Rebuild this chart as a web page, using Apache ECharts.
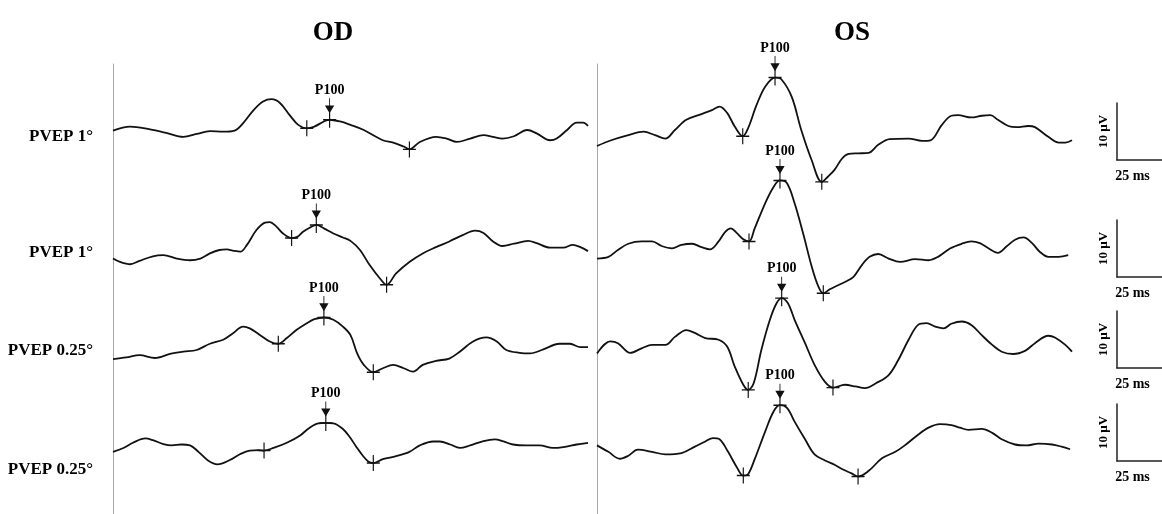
<!DOCTYPE html>
<html><head><meta charset="utf-8">
<script src="https://cdn.jsdelivr.net/npm/echarts@6/dist/echarts.min.js"></script>
<style>html,body{margin:0;padding:0;background:#fff}#c{width:1162px;height:514px}</style>
</head><body><div id="c"></div><script>
// ---- data (time in ms, amplitude in µV) ----
const columnTitles = ['OD', 'OS'];
const rowLabels = ['PVEP 1°', 'PVEP 1°', 'PVEP 0.25°', 'PVEP 0.25°'];
const scaleAmpLabel = '10 µV';
const scaleTimeLabel = '25 ms';
const scaleAmp = 10;   // µV
const scaleTime = 25;  // ms
const sweep = 250;     // ms

const odR1 = [[0,-0.1],[9,0.6],[19.5,0.1],[28,-0.5],[37,-1.2],[44,-0.7],[51,-0.2],[58,-0.3],[64,-0.1],[68.5,1.2],[74,3.5],[79,5.0],[83.5,5.4],[88,4.7],[93,2.6],[97.5,0.9],[102,0.3],[106,0.6],[111,1.5],[114,1.8],[119.5,1.5],[125,0.9],[132,0],[142,-1.8],[147.5,-2.2],[153,-2.9],[156,-3.4],[161.5,-2.1],[170,-1.2],[175.5,-1.5],[181,-2.1],[188,-1.5],[195,-0.9],[200,-1.2],[205,-1.5],[211,-1.1],[218,0],[223,-0.6],[230,-1.8],[233.5,-1.5],[239,0],[244,1.3],[247.5,1.3],[250,0.7]];
const odR2 = [[0,-1.5],[3.7,-2.1],[9,-2.5],[14,-1.9],[21,-1.1],[26.5,-0.9],[33.5,-1.5],[40.5,-1.8],[46,-1.5],[51,-0.6],[56,0],[60,0.1],[63,-0.1],[67,-0.3],[70.5,0.9],[75.5,3.5],[80,4.8],[82.5,4.9],[86,4.1],[89.5,2.9],[94,2.1],[97,2.3],[100,3.2],[104,4.0],[107,4.4],[111,3.8],[116,2.9],[121,2.2],[125,1.6],[130,0],[135,-2.6],[140.5,-5.0],[144,-6.1],[149,-4.1],[156,-2.1],[163,-0.6],[170,0.5],[177,1.5],[184,2.6],[190.5,3.4],[195,3.0],[200,1.5],[205,0.7],[211,1.1],[218.5,1.6],[223,1.2],[230,0.4],[237,0.4],[242,0.9],[246,0.5],[250,-0.2]];
const odR3 = [[0,-1.6],[7,-1.3],[14,-0.9],[22,-1.4],[30,-0.7],[37,-0.3],[44,0],[51,1.1],[58,1.8],[63,2.9],[68.5,4.1],[72,3.8],[77.5,2.6],[82.5,1.5],[87,1.1],[91.5,2.1],[96.5,3.5],[102,4.7],[106,5.4],[111,5.7],[116,5.3],[121,4.1],[125,2.6],[128.5,-0.6],[132,-2.6],[137,-3.9],[142,-3.2],[147.5,-2.6],[153,-3.2],[158,-3.8],[163,-2.6],[170,-1.9],[177,-1.5],[182.5,-0.3],[189.5,1.5],[196.5,2.2],[202,1.5],[207,0],[214,-0.5],[219.5,-0.6],[226.5,0.1],[235,1.1],[240.5,1.1],[246,0.5],[250,0.5]];
const odR4 = [[0,-0.6],[5.5,0.3],[10.5,1.5],[17,2.5],[21,2.1],[26.5,1.2],[31,0.9],[36,1.1],[40.5,0.9],[45,-0.6],[50,-2.6],[55,-3.5],[61.5,-2.5],[67,-1.1],[72,-0.3],[76.5,-0.2],[79.5,-0.3],[84.5,0.3],[91.5,1.5],[98.5,3.2],[103.5,5.0],[108,6.0],[112,6.1],[116,6.0],[121,4.7],[124.5,2.9],[128,0.6],[131.5,-1.5],[134.5,-2.9],[137,-3.2],[142,-2.3],[149,-1.6],[156,-0.6],[161.5,0.9],[168.5,1.8],[172,1.8],[177.5,1.1],[182.5,0.3],[188,0.9],[195,1.9],[201,2.3],[205.5,1.8],[210.5,1.1],[217.5,0.9],[224.5,0.9],[231.5,0.3],[237,0.5],[244,1.1],[250,1.5]];

const osR1 = [[0,-2.8],[7.5,-1.8],[16.5,-0.9],[24.5,-0.3],[30.5,-0.9],[36,-1.5],[41,0],[47,1.8],[55,2.8],[60.5,3.5],[64.5,4.1],[68.5,3.0],[72.5,0.6],[76.7,-1.1],[79.5,0.3],[84,4.4],[88.5,7.6],[93.7,9.2],[97,8.9],[102.5,5.8],[107.5,0],[113,-5.3],[118.3,-9.1],[121.5,-8.2],[125,-7.0],[129,-5.0],[132.5,-4.2],[137.5,-4.1],[143,-4.0],[148,-2.6],[154,-1.6],[164,-1.5],[171,-1.9],[175.5,-1.8],[181.5,0.9],[186.5,2.5],[190,2.6],[197,2.2],[202.5,2.5],[207,2.6],[211,1.8],[216.5,0.7],[221,0.5],[227,0.7],[230.5,0.5],[237.5,-1.2],[243,-2.2],[246.5,-2.2],[250,-1.8]];
const osR2 = [[0,-1.5],[6,-1.2],[11,0],[16.5,1.1],[23.5,1.5],[29,1.5],[34,0.7],[39.5,0.3],[44.5,0.9],[50,1.1],[55,0.5],[59.5,0.1],[64,1.5],[67.5,3.2],[70.5,3.8],[73.5,3.0],[77,1.9],[80,1.5],[83,3.8],[88.5,8.2],[93,11.1],[96.3,12.2],[100,11.7],[104,8.2],[108.5,2.9],[113,-2.9],[116.5,-6.4],[119.1,-7.6],[122.5,-6.9],[125.5,-6.4],[130.5,-5.6],[135,-4.7],[139.5,-2.6],[143.5,-1.2],[148,-0.7],[153.5,-1.5],[159.5,-2.1],[167.5,-1.6],[174.5,-1.8],[179.5,-1.2],[186,0.3],[192,1.1],[197,1.5],[201.5,1.2],[206,0.3],[211,-0.5],[215.5,0.6],[220,1.8],[224.5,2.2],[229,1.2],[233,-0.3],[237.5,-1.2],[243,-1.2],[248,-0.9]];
const osR3 = [[0,-0.6],[7,1.5],[11,1.2],[17.5,-0.5],[23.5,0.3],[29,0.9],[36,0.9],[41,2.3],[47,3.5],[51.5,3.0],[57,2.1],[64,1.8],[68.5,0.6],[72.5,-2.9],[77,-6.1],[79.6,-7.0],[82.5,-5.8],[86.5,0],[91,5.3],[94.5,8.2],[97.2,9.1],[100.5,8.2],[104,5.3],[109.5,1.2],[114.5,-2.6],[120,-5.6],[124.2,-6.6],[130.5,-6.1],[136,-6.4],[141,-6.7],[147,-5.8],[153.5,-4.4],[158.5,-1.8],[164,1.8],[169,4.4],[173.5,4.7],[178,4.1],[182.5,3.8],[186.5,4.6],[192,5.0],[197,4.4],[202.5,2.6],[208,0.9],[213,-0.3],[219,-0.7],[225.5,-0.1],[230.5,1.2],[237.5,2.5],[241,2.2],[246.5,0.9],[250,-0.3]];
const osR4 = [[0,0.9],[6,-0.6],[12,-2.2],[16.5,-1.5],[21.5,-0.1],[29,-0.6],[36,-1.2],[44.5,-0.9],[51.5,0.6],[57,1.8],[61,2.6],[64.5,2.3],[69,-0.6],[73.5,-4.1],[77,-6.1],[79.5,-5.8],[83,-2.3],[88.5,4.1],[93,8.8],[96.3,10.2],[100,9.6],[104,6.4],[109.5,2.3],[114.5,-1.2],[120,-2.6],[125.5,-3.7],[129.5,-4.7],[134,-5.6],[137.4,-6.3],[143,-5.0],[150,-2.1],[157,-0.6],[162,0.9],[168.5,3.2],[174.5,5.0],[180.5,5.8],[186.5,5.6],[191,5.0],[195.5,4.5],[202.5,4.7],[208,3.8],[213,2.3],[220,1.1],[226,0.9],[232.5,1.3],[239.5,1.1],[244.5,0.6],[249,0]];

// marked components: [N75, P100, N135]
const odMarks = [
  [[102,0.3],[114,1.8],[156,-3.4]],
  [[94,2.1],[107,4.4],[144,-6.1]],
  [[87,1.1],[111,5.7],[137,-3.9]],
  [[79.5,-0.3],[112,6.1],[137,-3.2]]
];
const osMarks = [
  [[76.7,-1.1],[93.7,9.2],[118.3,-9.1]],
  [[80,1.5],[96.3,12.2],[119.1,-7.6]],
  [[79.6,-7.0],[97.2,9.1],[124.2,-6.6]],
  [[77,-6.1],[96.3,10.2],[137.4,-6.3]]
];
const peakLabel = 'P100';

// ---- layout ----
const traces = [[odR1, osR1], [odR2, osR2], [odR3, osR3], [odR4, osR4]];
const marks = [[odMarks[0], osMarks[0]], [odMarks[1], osMarks[1]], [odMarks[2], osMarks[2]], [odMarks[3], osMarks[3]]];
const PX_MS = 1.9, PX_UV = 5.7, YR = 15;
const COL_LEFT = [113, 597];
const ROW_BASE = [130, 250, 350, 470];
const LABEL_Y = [137, 253, 351, 470];
const BAR_BOTTOM = [160, 277, 368, 461];
const SERIF = 'Liberation Serif';
const INK = '#000';

const grid = [], xAxis = [], yAxis = [], series = [], title = [];
const hidden = { show: false };

for (let r = 0; r < 4; r++) {
  for (let c = 0; c < 2; c++) {
    const gi = grid.length;
    grid.push({ left: COL_LEFT[c], top: ROW_BASE[r] - YR * PX_UV, width: sweep * PX_MS, height: 2 * YR * PX_UV });
    xAxis.push({ gridIndex: gi, type: 'value', min: 0, max: sweep, show: false });
    yAxis.push({ gridIndex: gi, type: 'value', min: -YR, max: YR, show: false });
    series.push({
      type: 'line', xAxisIndex: gi, yAxisIndex: gi, data: traces[r][c],
      smooth: 0.35, showSymbol: false, silent: true,
      lineStyle: { color: '#111', width: 1.8 }
    });
    series.push({
      type: 'scatter', xAxisIndex: gi, yAxisIndex: gi, data: marks[r][c], silent: true,
      symbol: 'path://M0,8 L13,8 M6.5,0 L6.5,16', symbolSize: [13, 16],
      itemStyle: { color: '#111', borderColor: '#111', borderWidth: 1.3, opacity: 1 }, z: 3
    });
    series.push({
      type: 'scatter', xAxisIndex: gi, yAxisIndex: gi, data: [marks[r][c][1]], silent: true,
      symbol: 'path://M3.5,0 L3.5,9 M0,8 L3.5,14 L7,8 Z', symbolSize: [7, 14], symbolOffset: [0, -14.5],
      itemStyle: { color: '#111', borderColor: '#111', borderWidth: 1.2, opacity: 1 }, z: 3,
      label: { show: true, formatter: peakLabel, position: 'top', distance: 0,
        color: INK, fontFamily: SERIF, fontWeight: 'bold', fontSize: 14 }
    });
  }
}

// panel frame lines
for (let c = 0; c < 2; c++) {
  const gi = grid.length;
  grid.push({ left: COL_LEFT[c], top: 64, width: 470, height: 460 });
  xAxis.push({ gridIndex: gi, type: 'value', min: 0, max: 1, show: false });
  yAxis.push({ gridIndex: gi, type: 'value', min: 0, max: 1,
    axisLine: { show: true, lineStyle: { color: '#a8a8a8', width: 1 } },
    axisTick: hidden, axisLabel: hidden, splitLine: hidden });
}

// calibration bars
for (let r = 0; r < 4; r++) {
  const gi = grid.length;
  grid.push({ left: 1117, top: BAR_BOTTOM[r] - scaleAmp * PX_UV, width: scaleTime * PX_MS, height: scaleAmp * PX_UV });
  xAxis.push({ gridIndex: gi, type: 'value', min: 0, max: scaleTime,
    axisLine: { show: true, lineStyle: { color: '#222', width: 1.5 } },
    axisTick: hidden, axisLabel: hidden, splitLine: hidden,
    name: scaleTimeLabel, nameLocation: 'middle', nameGap: 9,
    nameTextStyle: { color: INK, fontFamily: SERIF, fontWeight: 'bold', fontSize: 14, padding: [0, 14, 0, 0] } });
  yAxis.push({ gridIndex: gi, type: 'value', min: 0, max: scaleAmp,
    axisLine: { show: true, lineStyle: { color: '#222', width: 1.5 } },
    axisTick: hidden, axisLabel: hidden, splitLine: hidden,
    name: scaleAmpLabel, nameLocation: 'middle', nameGap: 7,
    nameTextStyle: { color: INK, fontFamily: SERIF, fontWeight: 'bold', fontSize: 13 } });
}

// titles
const titleX = [333, 852];
columnTitles.forEach((t, c) => title.push({ text: t, left: titleX[c], top: 20, textAlign: 'center', padding: 0,
  textStyle: { color: INK, fontFamily: SERIF, fontWeight: 'bold', fontSize: 27 } }));
rowLabels.forEach((t, r) => title.push({ text: t, right: 1162 - 93, top: LABEL_Y[r] - 9, padding: 0,
  textStyle: { color: INK, fontFamily: SERIF, fontWeight: 'bold', fontSize: 17 } }));

const chart = echarts.init(document.getElementById('c'), null, { renderer: 'canvas' });
chart.setOption({ backgroundColor: '#fff', animation: false, title, grid, xAxis, yAxis, series });
</script></body></html>
